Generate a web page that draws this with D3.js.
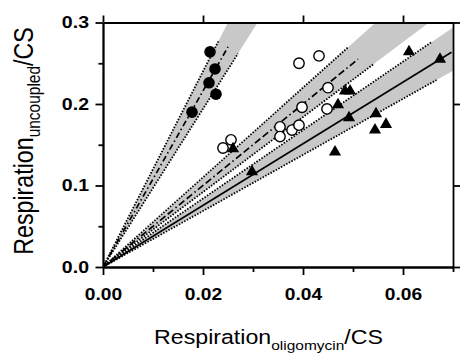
<!DOCTYPE html>
<html>
<head>
<meta charset="utf-8">
<script src="https://cdn.jsdelivr.net/npm/d3@7"></script>
<style>
  body { margin: 0; background: #fff; }
  svg { display: block; }
  .axis path, .axis line { stroke: #000; stroke-width: 1.8; }
  .axis text { font-family: "Liberation Sans", Arial, sans-serif; font-weight: bold; font-size: 16px; fill: #000; }
</style>
</head>
<body>
<svg id="chart"></svg>
<script>
var fullX = [0.0214, 0.0224, 0.0212, 0.0226, 0.0178];
var fullY = [0.264, 0.243, 0.226, 0.212, 0.190];

var openX = [0.0392, 0.0432, 0.0450, 0.0398, 0.0448, 0.0354, 0.0378, 0.0392, 0.0354, 0.0240, 0.0256];
var openY = [0.250, 0.259, 0.220, 0.196, 0.194, 0.172, 0.168, 0.174, 0.160, 0.146, 0.156];

var triX = [0.0260, 0.0298, 0.0464, 0.0470, 0.0484, 0.0494, 0.0492, 0.0546, 0.0544, 0.0566, 0.0612, 0.0674];
var triY = [0.145, 0.117, 0.141, 0.199, 0.216, 0.216, 0.183, 0.188, 0.168, 0.175, 0.264, 0.255];

// 原点を通る回帰直線の傾きと信頼区間 (黒丸, 白丸, 三角)
var fitSlope = [10.8, 5.0, 3.78];
var bandLo = [9.7, 4.6, 3.44];
var bandHi = [12.0, 5.5, 4.2];
// 線の描画範囲 (x)
var fitEnd = [0.025, 0.051, 0.0697];
var loEnd = [0.027, 0.054, 0.0667];
var hiEnd = [0.0231, 0.049, 0.0657];
var fitDash = ["6,3,1.5,3", "7,3,7,3,1.5,3", null];

// 目盛
var xMajor = [0, 0.02, 0.04, 0.06];
var xMinor = [0.01, 0.03, 0.05, 0.07];
var yMajor = [0, 0.1, 0.2, 0.3];
var yMinor = [0.05, 0.15, 0.25];

// SVGの描画サイズとマージン
var W = 460, H = 354;
var margin = {top: 22.5, right: 7, bottom: 87, left: 103};
var width = W - margin.left - margin.right;
var height = H - margin.top - margin.bottom;

var svg = d3.select("#chart")
  .attr("width", W)
  .attr("height", H)
  .append("g")
  .attr("transform", "translate(" + margin.left + "," + margin.top + ")");

var xScale = d3.scaleLinear().domain([0, 0.07]).range([0, width]);
var yScale = d3.scaleLinear().domain([0, 0.3]).range([height, 0]);

svg.append("clipPath").attr("id", "plotclip")
  .append("rect").attr("width", width).attr("height", height);

var plot = svg.append("g").attr("clip-path", "url(#plotclip)");

// 信頼区間の灰色の帯
var big = 0.2;
fitSlope.forEach(function(s, i) {
  var pts = [[0, 0], [big, bandLo[i] * big], [big, bandHi[i] * big]];
  plot.append("path")
    .attr("d", "M" + pts.map(function(p) { return xScale(p[0]) + "," + yScale(p[1]); }).join("L") + "Z")
    .attr("fill", "#c8c8c8");
});

var line = d3.line()
  .x(function(d) { return xScale(d[0]); })
  .y(function(d) { return yScale(d[1]); });

// 帯の境界（点線）
fitSlope.forEach(function(s, i) {
  [[bandLo[i], loEnd[i]], [bandHi[i], hiEnd[i]]].forEach(function(b) {
    plot.append("path")
      .attr("d", line([[0, 0], [b[1], b[0] * b[1]]]))
      .attr("fill", "none")
      .attr("stroke", "#000")
      .attr("stroke-width", 1.8)
      .attr("stroke-dasharray", "1.5,1.5");
  });
});

// 回帰直線
fitSlope.forEach(function(s, i) {
  plot.append("path")
    .attr("d", line([[0, 0], [fitEnd[i], s * fitEnd[i]]]))
    .attr("fill", "none")
    .attr("stroke", "#000")
    .attr("stroke-width", 1.7)
    .attr("stroke-dasharray", fitDash[i]);
});

// データ点
svg.append("g").selectAll("circle.full")
  .data(d3.range(fullX.length))
  .enter().append("circle")
  .attr("cx", function(i) { return xScale(fullX[i]); })
  .attr("cy", function(i) { return yScale(fullY[i]); })
  .attr("r", 5.8)
  .attr("fill", "#000");

svg.append("g").selectAll("circle.open")
  .data(d3.range(openX.length))
  .enter().append("circle")
  .attr("cx", function(i) { return xScale(openX[i]); })
  .attr("cy", function(i) { return yScale(openY[i]); })
  .attr("r", 5.2)
  .attr("fill", "#fff")
  .attr("stroke", "#000")
  .attr("stroke-width", 1.4);

var tri = d3.symbol().type(d3.symbolTriangle).size(64);
svg.append("g").selectAll("path.tri")
  .data(d3.range(triX.length))
  .enter().append("path")
  .attr("d", tri)
  .attr("transform", function(i) { return "translate(" + xScale(triX[i]) + "," + yScale(triY[i]) + ")"; })
  .attr("fill", "#000");

// 軸
function noLabel() { return ""; }

svg.append("g").attr("class", "axis")
  .attr("transform", "translate(0," + height + ")")
  .call(d3.axisBottom(xScale).tickValues(xMinor).tickFormat(noLabel).tickSize(5).tickSizeOuter(0));
var xAx = svg.append("g").attr("class", "axis")
  .attr("transform", "translate(0," + height + ")")
  .call(d3.axisBottom(xScale).tickValues(xMajor).tickFormat(d3.format(".2f")).tickSize(8).tickSizeOuter(0));
xAx.selectAll("text").attr("y", 22).attr("transform", "scale(1.2,1)");

svg.append("g").attr("class", "axis")
  .call(d3.axisLeft(yScale).tickValues(yMinor).tickFormat(noLabel).tickSize(4.5).tickSizeOuter(0));
var yAx = svg.append("g").attr("class", "axis")
  .call(d3.axisLeft(yScale).tickValues(yMajor).tickFormat(d3.format(".1f")).tickSize(7.5).tickSizeOuter(0));
yAx.selectAll("text").attr("x", -11.5).attr("transform", "scale(1.22,1)");

svg.append("g").attr("class", "axis")
  .call(d3.axisTop(xScale).tickValues(xMajor).tickFormat(noLabel).tickSize(7).tickSizeOuter(0));
svg.append("g").attr("class", "axis")
  .attr("transform", "translate(" + width + ",0)")
  .call(d3.axisRight(yScale).tickValues(yMajor).tickFormat(noLabel).tickSize(7).tickSizeOuter(0));

// 軸タイトル
var xt = svg.append("text")
  .attr("transform", "translate(" + (268.5 - margin.left) + "," + (344 - margin.top) + ") scale(1.13,1)")
  .attr("text-anchor", "middle")
  .style("font-family", "'Liberation Sans', Arial, sans-serif")
  .style("font-size", "20.5px");
xt.append("tspan").text("Respiration");
xt.append("tspan").attr("dy", 6).style("font-size", "13.7px").text("oligomycin");
xt.append("tspan").attr("dy", -6).text("/CS");

var yt = svg.append("text")
  .attr("transform", "translate(" + (33 - margin.left) + "," + (141 - margin.top) + ") rotate(-90) scale(0.86,1)")
  .attr("text-anchor", "middle")
  .style("font-family", "'Liberation Sans', Arial, sans-serif")
  .style("font-size", "27px");
yt.append("tspan").text("Respiration");
yt.append("tspan").attr("dy", 7).style("font-size", "18px").text("uncoupled");
yt.append("tspan").attr("dy", -7).text("/CS");
</script>
</body>
</html>
